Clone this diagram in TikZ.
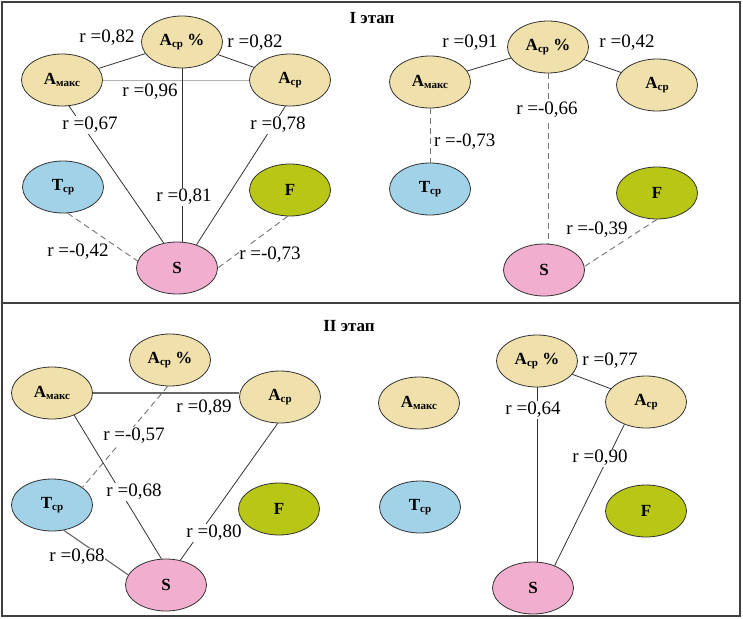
\documentclass[tikz,border=0pt]{standalone}
\usepackage{fontspec}
\setmainfont{Liberation Serif}
\usetikzlibrary{shapes.geometric}
\definecolor{beige}{RGB}{240,225,172}
\definecolor{tblue}{RGB}{162,210,232}
\definecolor{fgreen}{RGB}{184,198,22}
\definecolor{spink}{RGB}{242,174,206}
\definecolor{edgec}{RGB}{50,50,50}
\newcommand{\Asub}[1]{\textbf{А}\raisebox{-2.5pt}{\fontsize{11}{11}\selectfont\textbf{#1}}}
\newcommand{\Tsub}{\textbf{Т}\raisebox{-2.5pt}{\fontsize{11}{11}\selectfont\textbf{ср}}}
\tikzset{
  ell/.style={ellipse, draw=edgec, line width=0.8pt, minimum width=81pt, minimum height=52pt, inner sep=0pt,
    font=\fontsize{17}{17}\selectfont\bfseries},
  aell/.style={ell, fill=beige},
  tell/.style={ell, fill=tblue},
  fell/.style={ell, fill=fgreen},
  sell/.style={ell, fill=spink},
  sol/.style={draw=edgec, line width=0.8pt},
  soll/.style={draw=black!30, line width=0.8pt},
  solg/.style={draw=black!60, line width=1.1pt},
  dsh/.style={draw=black!55, line width=0.9pt, dash pattern=on 6pt off 4pt},
  lab/.style={fill=white, inner sep=0.8pt, font=\fontsize{19}{19}\selectfont},
  ttl/.style={font=\fontsize{17}{17}\selectfont\bfseries}
}
\begin{document}
\begin{tikzpicture}[x=1pt,y=-1pt]
\useasboundingbox (0,0) rectangle (743,618);
\draw[draw=black!75, line width=1.2pt] (2,2) rectangle (740,616);
\draw[draw=black!75, line width=1.2pt] (2,303) -- (740,303);

\node[ttl] (title1) at (372,18) {I этап};
\node[ttl] (title2) at (349,326) {II этап};

% ---------- Panel 1 left ----------
\node[aell] (ap1) at (182,42) {\Asub{ср} \%};
\node[aell] (am1) at (62,80) {\Asub{макс}};
\node[aell] (ac1) at (290,80) {\Asub{ср}};
\node[tell] (t1) at (63,187) {\Tsub};
\node[fell] (f1) at (290,190) {F};
\node[sell] (s1) at (177,268) {S};

\draw[sol] (am1) -- (ap1);
\draw[sol] (ap1) -- (ac1);
\draw[soll] (am1.east) -- (am1.east -| ac1.west);
\draw[sol] (ap1.south) -- (ap1.south |- s1.north);
\draw[sol] (am1.285) -- (s1.118);
\draw[sol] (ac1.260) -- (s1.50);
\draw[dsh] (t1.280) -- (s1.170);
\draw[dsh] (f1.265) -- (s1.east);

\node[lab] (l11) at (107,38) {r =0,82};
\node[lab] (l12) at (255,43) {r =0,82};
\node[lab] (l13) at (150,92) {r =0,96};
\node[lab] (l14) at (184,197) {r =0,81};
\node[lab] (l15) at (90,125) {r =0,67};
\node[lab] (l16) at (278,125) {r =0,78};
\node[lab] (l17) at (78,252) {r =-0,42};
\node[lab] (l18) at (270,255) {r =-0,73};

% ---------- Panel 1 right ----------
\node[aell] (ap2) at (548,47) {\Asub{ср} \%};
\node[aell] (am2) at (430,82) {\Asub{макс}};
\node[aell] (ac2) at (657,85) {\Asub{ср}};
\node[tell] (t2) at (430,189) {\Tsub};
\node[fell] (f2) at (657,193) {F};
\node[sell] (s2) at (544,270) {S};

\draw[sol] (am2) -- (ap2);
\draw[sol] (ap2) -- (ac2);
\draw[dsh] (ap2.south) -- (ap2.south |- s2.north);
\draw[dsh] (am2) -- (t2);
\draw[dsh] (f2.270) -- (s2.5);

\node[lab] (l21) at (470,43) {r =0,91};
\node[lab] (l22) at (627,43) {r =0,42};
\node[lab] (l23) at (547,110) {r =-0,66};
\node[lab, anchor=west] (l24) at (433,142) {r =-0,73};
\node[lab] (l25) at (597,230) {r =-0,39};

% ---------- Panel 2 left ----------
\node[aell] (ap3) at (170,360) {\Asub{ср} \%};
\node[aell] (am3) at (52,393) {\Asub{макс}};
\node[aell] (ac3) at (280,397) {\Asub{ср}};
\node[tell] (t3) at (52,505) {\Tsub};
\node[fell] (f3) at (279,509) {F};
\node[sell] (s3) at (166,585) {S};

\draw[solg] (am3.east) -- (am3.east -| ac3.west);
\draw[dsh] (ap3.265) -- (t3.30);
\draw[sol] (am3.315) -- (s3.100);
\draw[sol] (ac3.265) -- (s3.60);
\draw[solg] (t3.295) -- (s3.165);

\node[lab] (l31) at (204,408) {r =0,89};
\node[lab] (l32) at (134,436) {r =-0,57};
\node[lab] (l33) at (134,492) {r =0,68};
\node[lab] (l34) at (214,533) {r =0,80};
\node[lab] (l35) at (77,557) {r =0,68};

% ---------- Panel 2 right ----------
\node[aell] (ap4) at (537,361) {\Asub{ср} \%};
\node[aell] (am4) at (419,403) {\Asub{макс}};
\node[aell] (ac4) at (646,402) {\Asub{ср}};
\node[tell] (t4) at (420,507) {\Tsub};
\node[fell] (f4) at (646,511) {F};
\node[sell] (s4) at (533,588) {S};

\draw[sol] (ap4) -- (ac4);
\draw[sol] (ap4.south) -- (ap4.south |- s4.north);
\draw[sol] (ac4.226) -- (s4.46);

\node[lab] (l41) at (610,361) {r =0,77};
\node[lab] (l42) at (533,410) {r =0,64};
\node[lab] (l43) at (600,458) {r =0,90};
\end{tikzpicture}
\end{document}
